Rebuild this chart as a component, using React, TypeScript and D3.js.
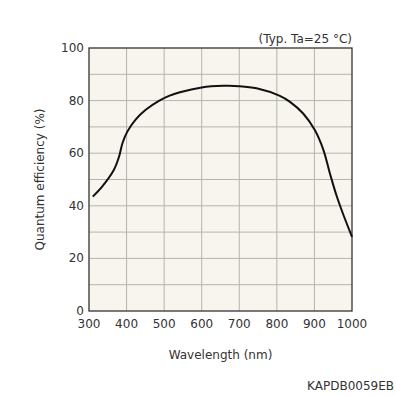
import { useEffect, useRef } from "react";
import * as d3 from "d3";

// wavelength (nm) vs quantum efficiency (%)
const wavelength = [310, 335, 366, 380, 389, 402, 424, 451, 486, 513, 542, 600, 657, 700, 746, 808, 834, 870, 901, 924, 941, 959, 977, 1000];
const qe = [43.5, 47.3, 53.6, 58.7, 63.8, 68.2, 72.8, 76.5, 79.9, 81.8, 83.2, 85, 85.6, 85.5, 84.7, 81.8, 79.6, 75.1, 68.8, 61.2, 52.4, 43.8, 36.6, 28.2];

const xTicks = [300, 400, 500, 600, 700, 800, 900, 1000];
const yTicks = [0, 20, 40, 60, 80, 100];
const yGrid = [10, 20, 30, 40, 50, 60, 70, 80, 90];

export default function App() {
  const svgRef = useRef<SVGSVGElement | null>(null);

  useEffect(() => {
    const width = 396;
    const height = 396;
    const margin = { top: 48, right: 44, bottom: 85, left: 89 };
    const font = "Tahoma, 'DejaVu Sans', Verdana, sans-serif";

    const x = d3
      .scaleLinear()
      .domain([300, 1000])
      .range([margin.left, width - margin.right]);
    const y = d3
      .scaleLinear()
      .domain([0, 100])
      .range([height - margin.bottom, margin.top]);

    const svg = d3.select(svgRef.current);
    svg.selectAll("*").remove();
    svg.attr("width", width).attr("height", height);

    // plot background
    svg
      .append("rect")
      .attr("x", x(300))
      .attr("y", y(100))
      .attr("width", x(1000) - x(300))
      .attr("height", y(0) - y(100))
      .attr("fill", "#f7f5ee");

    // grid
    svg
      .append("g")
      .selectAll("line")
      .data(xTicks.slice(1, -1))
      .join("line")
      .attr("x1", (d) => x(d))
      .attr("x2", (d) => x(d))
      .attr("y1", y(0))
      .attr("y2", y(100))
      .attr("stroke", "#b4b4b0")
      .attr("stroke-width", 1);

    svg
      .append("g")
      .selectAll("line")
      .data(yGrid)
      .join("line")
      .attr("x1", x(300))
      .attr("x2", x(1000))
      .attr("y1", (d) => y(d))
      .attr("y2", (d) => y(d))
      .attr("stroke", "#b4b4b0")
      .attr("stroke-width", 1);

    // frame
    svg
      .append("rect")
      .attr("x", x(300))
      .attr("y", y(100))
      .attr("width", x(1000) - x(300))
      .attr("height", y(0) - y(100))
      .attr("fill", "none")
      .attr("stroke", "#333")
      .attr("stroke-width", 1.3);

    // curve
    const line = d3
      .line<number>()
      .x((d, i) => x(wavelength[i]))
      .y((d) => y(d))
      .curve(d3.curveCatmullRom.alpha(0.5));

    svg
      .append("path")
      .datum(qe)
      .attr("d", line)
      .attr("fill", "none")
      .attr("stroke", "#111")
      .attr("stroke-width", 2);

    // tick labels
    svg
      .append("g")
      .selectAll("text")
      .data(xTicks)
      .join("text")
      .attr("x", (d) => x(d))
      .attr("y", y(0) + 17)
      .attr("text-anchor", "middle")
      .text((d) => d);

    svg
      .append("g")
      .selectAll("text")
      .data(yTicks)
      .join("text")
      .attr("x", x(300) - 5)
      .attr("y", (d) => y(d) + 4)
      .attr("text-anchor", "end")
      .text((d) => d);

    // titles
    svg
      .append("text")
      .attr("x", (x(300) + x(1000)) / 2)
      .attr("y", 359)
      .attr("text-anchor", "middle")
      .text("Wavelength (nm)");

    svg
      .append("text")
      .attr("transform", `translate(44,${(y(0) + y(100)) / 2}) rotate(-90)`)
      .attr("text-anchor", "middle")
      .text("Quantum efficiency (%)");

    svg
      .append("text")
      .attr("x", x(1000))
      .attr("y", 43)
      .attr("text-anchor", "end")
      .text("(Typ. Ta=25 °C)");

    svg
      .append("text")
      .attr("x", 394)
      .attr("y", 390)
      .attr("text-anchor", "end")
      .text("KAPDB0059EB");

    svg
      .selectAll("text")
      .attr("font-family", font)
      .attr("font-size", "12px")
      .attr("fill", "#333");
  }, []);

  return (
    <div style={{ position: "absolute", left: 0, top: 0, width: 396, height: 396 }}>
      <svg ref={svgRef}></svg>
    </div>
  );
}
